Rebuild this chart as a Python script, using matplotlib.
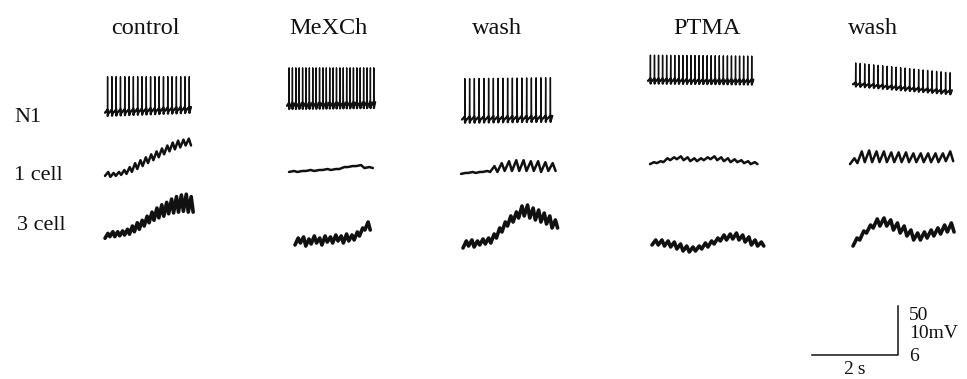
import numpy as np
import matplotlib.pyplot as plt

plt.rcParams['font.family'] = ['Liberation Serif', 'DejaVu Serif']

conditions = ["control", "MeXCh", "wash", "PTMA", "wash"]
rows = ["N1", "1 cell", "3 cell"]

# N1: spike trains (mV relative to the N1 reference level, sweep length in s)
n1_count = [20, 26, 19, 26, 22]
n1_rest = [(0, 3), (7, 8), (-7, -6), (32, 31), (28, 20)]
n1_peak = [(34, 34), (43, 43), (32, 33), (56, 55), (48, 38)]
n1_ahp = [6, 6, 6, 5, 4]
n1_dur = [2.0, 2.05, 2.1, 2.45, 2.3]

# 1 cell: trough / peak of each oscillation cycle (mV)
c1_troughs = [
    [-1.2, -1.4, -1.2, -1.0, -0.8, -0.4, 0.2, 0.8, 1.4, 2.0, 2.6, 3.2, 3.8, 4.2, 4.6, 5.0],
    [-0.4, -0.4, -0.2, -0.2, 0.0, 0.0, 0.2, 0.6, 0.8, 0.4],
    [-0.8, -0.6, -0.6, -0.4, -0.4, -0.4, -0.2, -0.2, -0.2, -0.2, -0.2, -0.4, -0.2],
    [1.2, 1.4, 1.6, 2.0, 2.2, 2.0, 1.8, 1.8, 2.0, 2.2, 2.0, 1.8, 1.6, 1.6, 1.4, 1.2],
    [1.2, 1.4, 1.6, 1.6, 1.6, 1.6, 1.6, 1.6, 1.6, 1.6, 1.6, 1.6, 1.6, 1.8],
]
c1_peaks = [
    [-0.4, -0.6, -0.4, 0.0, 0.6, 1.4, 2.0, 2.6, 3.2, 3.8, 4.4, 5.0, 5.6, 6.0, 6.2, 6.4],
    [-0.2, -0.2, 0.0, 0.0, 0.2, 0.2, 0.6, 0.8, 1.0, 0.6],
    [-0.6, -0.4, -0.4, -0.2, 0.8, 1.4, 1.8, 2.0, 2.0, 1.8, 1.8, 1.6, 1.4],
    [1.6, 1.8, 2.4, 2.6, 2.8, 2.6, 2.4, 2.4, 2.6, 2.8, 2.6, 2.4, 2.2, 2.0, 1.8, 1.6],
    [2.4, 3.8, 4.0, 3.8, 3.8, 3.6, 3.6, 3.6, 3.4, 3.4, 3.4, 3.4, 3.4, 3.8],
]
c1_dur = [2.0, 1.95, 2.2, 2.5, 2.4]

# 3 cell: trough / peak of each oscillation cycle (mV)
c3_troughs = [
    [-0.4, -0.2, -0.2, -0.1, 0.0, 0.1, 0.4, 0.7, 1.1, 1.5, 1.8, 2.1, 2.3, 2.6, 2.7, 2.8, 2.9, 2.8],
    [-1.22, -0.98, -1.35, -1.1, -0.98, -1.22, -0.86, -0.98, -0.73, -0.98, -0.73, -0.61, -0.12, 0.61],
    [-1.59, -1.35, -1.47, -1.22, -1.1, -0.98, -0.37, 0.37, 1.1, 1.59, 2.08, 2.33, 2.08, 1.84, 1.59, 1.35, 0.86],
    [-1.22, -1.22, -1.35, -1.47, -1.71, -1.96, -2.08, -1.96, -1.71, -1.47, -1.1, -0.73, -0.61, -0.49, -0.61, -0.86, -1.22, -1.35],
    [-1.35, -0.61, 0.24, 0.86, 1.1, 1.1, 0.61, 0.24, -0.12, -0.61, -0.61, -0.37, -0.12, 0.12, 0.37],
]
c3_peaks = [
    [0.2, 0.4, 0.4, 0.5, 0.7, 1.1, 1.5, 1.8, 2.3, 2.8, 3.3, 3.7, 4.0, 4.4, 4.7, 4.9, 5.0, 4.7],
    [-0.37, -0.24, -0.49, -0.12, -0.37, -0.12, -0.24, 0.0, -0.12, 0.12, 0.0, 0.37, 0.86, 1.59],
    [-0.73, -0.61, -0.73, -0.49, -0.37, 0.12, 0.86, 1.59, 2.33, 2.82, 3.55, 3.67, 3.3, 3.06, 2.69, 2.33, 1.84],
    [-0.61, -0.61, -0.73, -0.86, -1.1, -1.35, -1.47, -1.35, -0.98, -0.73, -0.37, 0.0, 0.12, 0.24, 0.0, -0.24, -0.61, -0.86],
    [-0.37, 0.49, 1.22, 1.96, 2.08, 1.84, 1.47, 1.1, 0.61, 0.24, 0.37, 0.61, 0.86, 1.22, 1.47],
]
c3_dur = [2.05, 1.75, 2.2, 2.6, 2.35]

# calibration bar values
cal_mv = ["50", "10mV", "6"]
cal_s = "2\u2009s"

# ---- layout (figure pixels) ----
W, H = 967, 379
px_per_s = 43.0
row_ref = [110, 170, 235]           # reference level of each row
row_px_per_mv = [49 / 50, 49 / 10, 49 / 6]
sweep_x0 = [[105, 105, 105], [287, 289, 295], [462, 461, 463],
            [648, 650, 652], [853, 850, 853]]
title_x = [145, 328, 497, 707, 873]
row_label_y = [122, 180, 230]
row_label_x = [14, 14, 17]
row_lw = [1.0, 1.8, 2.6]
ink = "#111111"


def spike_train(n, rest, peak, ahp, dur):
    """Vertices of a spike train, plus the same trace with spikes cut off."""
    period = dur / n
    rests = np.linspace(rest[0], rest[1], n)
    peaks = np.linspace(peak[0], peak[1], n)
    t, v, base = [], [], []
    for i in range(n):
        t0 = i * period
        r = rests[i]
        t += [t0, t0 + 0.3 * period, t0 + 0.56 * period, t0 + 0.6 * period,
              t0 + 0.64 * period, t0 + 0.75 * period]
        v += [r - 0.45 * ahp, r - 0.2 * ahp, r, peaks[i], r - ahp, r - 0.6 * ahp]
        base += [r - 0.45 * ahp, r - 0.2 * ahp, r, r + 0.1 * ahp, r - ahp, r - 0.6 * ahp]
    t.append(dur)
    v.append(rests[-1])
    base.append(rests[-1])
    return np.array(t), np.array(v), np.array(base)


def oscillation(troughs, peaks, dur):
    n = len(troughs)
    period = dur / n
    t, v = [], []
    for i in range(n):
        t += [i * period, (i + 0.6) * period]
        v += [troughs[i], peaks[i]]
    t.append(dur)
    v.append(troughs[-1])
    return np.array(t), np.array(v)


fig = plt.figure(figsize=(W / 100, H / 100), dpi=100)
ax = fig.add_axes([0, 0, 1, 1])
ax.set_xlim(0, W)
ax.set_ylim(H, 0)
ax.axis("off")


def draw(col, row, t, v, lw=None):
    x = sweep_x0[col][row] + t * px_per_s
    y = row_ref[row] - v * row_px_per_mv[row]
    ax.plot(x, y, color=ink, lw=row_lw[row] if lw is None else lw,
            solid_joinstyle="round", solid_capstyle="round")


for c in range(len(conditions)):
    t, v, base = spike_train(n1_count[c], n1_rest[c], n1_peak[c], n1_ahp[c], n1_dur[c])
    draw(c, 0, t, v)
    draw(c, 0, t, base, lw=1.6)
    draw(c, 1, *oscillation(c1_troughs[c], c1_peaks[c], c1_dur[c]))
    draw(c, 2, *oscillation(c3_troughs[c], c3_peaks[c], c3_dur[c]))
    ax.text(title_x[c], 34, conditions[c], ha="center", va="baseline",
            fontsize=17.5, color=ink)

for r, name in enumerate(rows):
    ax.text(row_label_x[r], row_label_y[r], name, ha="left", va="baseline",
            fontsize=16, color=ink)

# calibration: 2 s horizontal, 50 / 10 / 6 mV vertical
bar_x1, bar_y = 898, 355
ax.plot([bar_x1 - 2 * px_per_s, bar_x1, bar_x1],
        [bar_y, bar_y, bar_y - 49], color=ink, lw=1.1)
for txt, yb in zip(cal_mv, [320, 338, 361]):
    ax.text(909, yb, txt, ha="left", va="baseline", fontsize=14, color=ink)
ax.text(bar_x1 - px_per_s, 374, cal_s, ha="center", va="baseline",
        fontsize=14, color=ink)

fig.savefig("out.png", dpi=100, facecolor="white")
